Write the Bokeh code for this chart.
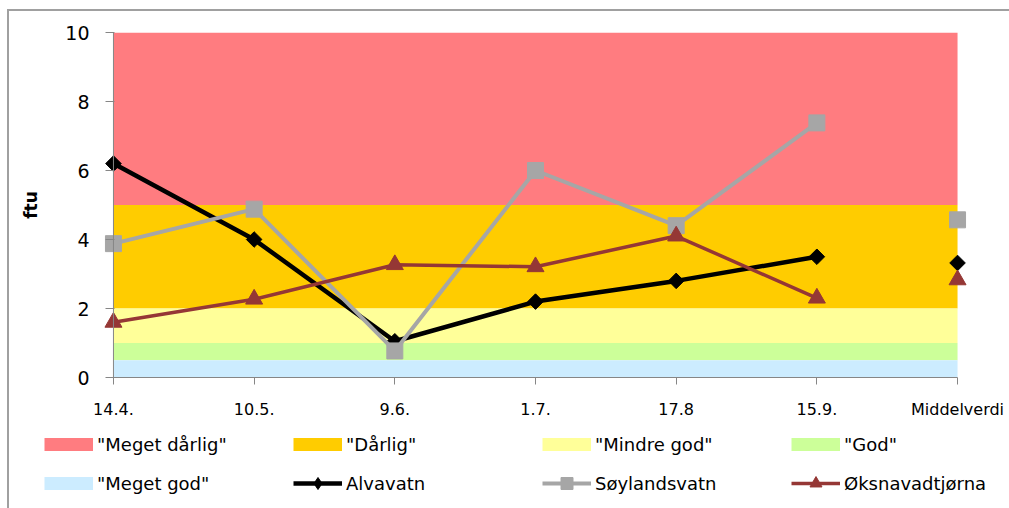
import numpy as np
from bokeh.plotting import figure
from bokeh.layouts import column
from bokeh.models import Range1d, FixedTicker, Span, Legend, LegendItem, ColumnDataSource
from bokeh.embed import file_html
from bokeh.resources import INLINE

# ---- data ----
x_labels = ["14.4.", "10.5.", "9.6.", "1.7.", "17.8", "15.9.", "Middelverdi"]
alvavatn = [6.2, 4.0, 1.05, 2.2, 2.8, 3.5]
soylandsvatn = [3.88, 4.88, 0.77, 6.0, 4.4, 7.38]
oksnavadtjorna = [1.6, 2.27, 3.27, 3.21, 4.1, 2.3]
mean_alvavatn = [3.32]
mean_soylandsvatn = [4.57]
mean_oksnavadtjorna = [2.83]

band_labels = ['"Meget dårlig"', '"Dårlig"', '"Mindre god"', '"God"', '"Meget god"']
band_lower = [5, 2, 1, 0.5, 0]
band_upper = [10, 5, 2, 1, 0.5]
band_colors = ["#FF7C80", "#FFCC00", "#FFFF99", "#CCFF99", "#CCECFF"]
y_ticks = [0, 2, 4, 6, 8, 10]
series_names = ["Alvavatn", "Søylandsvatn", "Øksnavadtjørna"]

xs = list(range(len(alvavatn)))
mean_x = [len(x_labels) - 1]

gray = "#A6A6A6"
red = "#953735"
series_styles = [
    dict(color="black", width=4.5, marker="square", angle=np.pi / 4, size=11, lmarker="diamond"),
    dict(color=gray, width=4, marker="square", angle=0.0, size=16, lmarker="square"),
    dict(color=red, width=3.5, marker="triangle", angle=0.0, size=17, lmarker="triangle"),
]
series_values = [alvavatn, soylandsvatn, oksnavadtjorna]
series_means = [mean_alvavatn, mean_soylandsvatn, mean_oksnavadtjorna]

p = figure(width=1000, height=414, x_range=Range1d(-0.085, 6.085), y_range=Range1d(0, 10),
           output_backend="svg", toolbar_location=None,
           min_border_left=92, min_border_right=40, min_border_top=21, min_border_bottom=48)
p.frame_align = False
p.xgrid.visible = False
p.ygrid.visible = False
p.outline_line_color = None

# quality bands
band_src = ColumnDataSource(dict(bottom=band_lower, top=band_upper, color=band_colors))
p.quad(left=0, right=len(x_labels) - 1, bottom="bottom", top="top",
       fill_color="color", line_color=None, source=band_src)

# y axis line at x = first category
p.add_layout(Span(location=0, dimension="height", line_color="#868686", line_width=1, level="glyph"))

# series
for vals, means, st in zip(series_values, series_means, series_styles):
    p.line(xs, vals, line_color=st["color"], line_width=st["width"])
    p.scatter(xs, vals, marker=st["marker"], angle=st["angle"], size=st["size"],
              fill_color=st["color"], line_color=st["color"])
    p.scatter(mean_x, means, marker=st["marker"], angle=st["angle"], size=st["size"],
              fill_color=st["color"], line_color=st["color"])

# axes
p.xaxis.ticker = FixedTicker(ticks=list(range(len(x_labels))))
p.xaxis.major_label_overrides = {i: l for i, l in enumerate(x_labels)}
p.xaxis.bounds = (0, len(x_labels) - 1)
p.xaxis.axis_line_color = "#868686"
p.xaxis.major_tick_line_color = "#868686"
p.xaxis.major_tick_out = 7
p.xaxis.major_tick_in = 0
p.xaxis.minor_tick_line_color = None
p.xaxis.major_label_text_font = "DejaVu Sans"
p.xaxis.major_label_text_font_size = "16px"
p.xaxis.major_label_text_color = "black"
p.xaxis.major_label_standoff = 15

p.yaxis.ticker = FixedTicker(ticks=y_ticks)
p.yaxis.axis_line_color = None
p.yaxis.major_tick_line_color = "#868686"
p.yaxis.major_tick_in = 13
p.yaxis.major_tick_out = -4
p.yaxis.minor_tick_line_color = None
p.yaxis.major_label_text_font = "DejaVu Sans"
p.yaxis.major_label_text_font_size = "19px"
p.yaxis.major_label_text_color = "black"
p.yaxis.major_label_standoff = 12
p.yaxis.axis_label = "ftu"
p.yaxis.axis_label_text_font = "DejaVu Sans"
p.yaxis.axis_label_text_font_size = "17px"
p.yaxis.axis_label_text_font_style = "bold"
p.yaxis.axis_label_text_color = "black"
p.yaxis.axis_label_standoff = 21

# ---- legend figure ----
pl = figure(width=1000, height=83, x_range=Range1d(0, 1), y_range=Range1d(0, 1),
            output_backend="svg", toolbar_location=None,
            x_axis_location=None, y_axis_location=None,
            min_border_left=0, min_border_right=0, min_border_top=0, min_border_bottom=0)
pl.frame_align = False
pl.xgrid.visible = False
pl.ygrid.visible = False
pl.outline_line_color = None

nan2 = [np.nan, np.nan]
band_proxies = [pl.line(nan2, nan2, line_color=c, line_width=13) for c in band_colors]
series_proxies = []
for st in series_styles:
    rl = pl.line(nan2, nan2, line_color=st["color"], line_width=st["width"])
    rm = pl.scatter(nan2, nan2, marker=st["lmarker"],
                    fill_color=st["color"], line_color=st["color"])
    series_proxies.append([rl, rm])

def make_legend(items, loc, gh):
    return Legend(items=items, orientation="horizontal", location=loc,
                  border_line_color=None, background_fill_alpha=0, padding=0, margin=0,
                  spacing=0, glyph_width=49, glyph_height=gh, label_standoff=4,
                  label_width=196, label_height=14, label_text_font="DejaVu Sans",
                  label_text_font_size="18px", label_text_color="black")

items1 = [LegendItem(label=band_labels[i], renderers=[band_proxies[i]]) for i in range(4)]
items2 = [LegendItem(label=band_labels[4], renderers=[band_proxies[4]])] + \
         [LegendItem(label=n, renderers=r) for n, r in zip(series_names, series_proxies)]
pl.add_layout(make_legend(items1, (35, 53), 22))
pl.add_layout(make_legend(items2, (35, 10), 30))

layout = column(p, pl, spacing=0)
layout.styles = {"margin-left": "7px", "margin-top": "9px",
                 "border-left": "2px solid #A0A0A0", "border-top": "2px solid #A0A0A0",
                 "border-right": "none", "border-bottom": "none"}

open("out.html", "w").write(file_html(layout, INLINE))
